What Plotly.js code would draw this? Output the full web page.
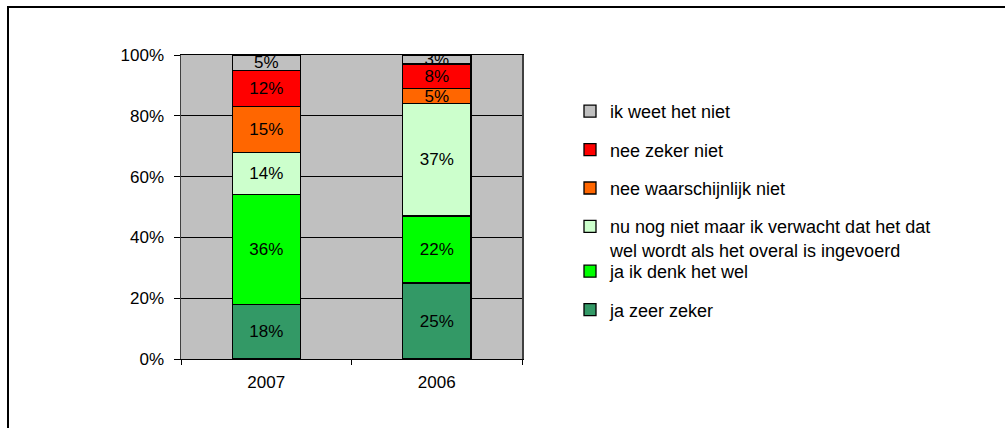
<!DOCTYPE html>
<html>
<head>
<meta charset="utf-8">
<script src="https://cdn.plot.ly/plotly-3.0.1.min.js"></script>
<style>
  html, body { margin: 0; padding: 0; background: #fff; overflow: hidden; }
  #wrap { position: relative; width: 1005px; height: 428px; }
  #chart { position: absolute; left: 0; top: 0; width: 1005px; height: 428px; }
  #frame { position: absolute; left: 7px; top: 6px; width: 1200px; height: 600px;
           border-left: 2px solid #000; border-top: 2px solid #000; pointer-events: none; }
</style>
</head>
<body>
<div id="wrap">
  <div id="chart"></div>
  <div id="frame"></div>
</div>
<script>
// ---- data ----
const categories = ['2007', '2006'];
const seriesNames = [
  'ja zeer zeker',
  'ja ik denk het wel',
  'nu nog niet maar ik verwacht dat het dat<br>wel wordt als het overal is ingevoerd',
  'nee waarschijnlijk niet',
  'nee zeker niet',
  'ik weet het niet'
];
const jaZeerZeker       = [18, 25];
const jaIkDenkHetWel    = [36, 22];
const nuNogNiet         = [14, 37];
const neeWaarschijnlijk = [15, 5];
const neeZekerNiet      = [12, 8];
const ikWeetHetNiet     = [5, 3];
const seriesValues = [jaZeerZeker, jaIkDenkHetWel, nuNogNiet, neeWaarschijnlijk, neeZekerNiet, ikWeetHetNiet];
const seriesColors = ['#339966', '#00FF00', '#CCFFCC', '#FF6600', '#FF0000', '#C0C0C0'];

// ---- layout helpers (pixel -> paper) ----
const W = 1005, H = 428;
const M = { l: 181, r: 1005 - 522, t: 55, b: 428 - 359 };
const plotW = W - M.l - M.r, plotH = H - M.t - M.b;
const px = x => (x - M.l) / plotW;
const py = y => (H - M.b - y) / plotH;

const FONT = 'Liberation Sans, Arial, sans-serif';
const N = seriesNames.length;

const traces = seriesNames.map((name, i) => ({
  type: 'bar',
  name: name,
  x: categories,
  y: seriesValues[i],
  text: seriesValues[i].map(v => v + '%'),
  textposition: 'inside',
  insidetextanchor: 'middle',
  textangle: 0,
  constraintext: 'none',
  textfont: { family: FONT, size: 17, color: '#000' },
  marker: { color: seriesColors[i], line: { color: '#000', width: 1.3 } },
  legend: i < 2 ? 'legend2' : 'legend',
  legendgroup: 'g' + i,
  legendrank: N - i,
  hoverinfo: 'skip'
}));

const legendCommon = {
  font: { family: FONT, size: 18, color: '#000' },
  bgcolor: 'rgba(0,0,0,0)',
  borderwidth: 0,
  traceorder: 'grouped',
  tracegroupgap: 12,
  valign: 'top',
  xanchor: 'left',
  yanchor: 'top',
  itemclick: false,
  itemdoubleclick: false
};

const layout = {
  width: W, height: H,
  margin: M,
  paper_bgcolor: '#fff',
  plot_bgcolor: '#C0C0C0',
  barmode: 'stack',
  bargap: 0.6,
  showlegend: true,
  font: { family: FONT, size: 17, color: '#000' },
  xaxis: {
    type: 'category',
    tickson: 'boundaries',
    ticks: 'outside', ticklen: 5, tickcolor: '#000', tickwidth: 1,
    ticklabelstandoff: 8,
    showline: true, linecolor: '#000', linewidth: 1, mirror: true,
    showgrid: false,
    tickfont: { family: FONT, size: 17, color: '#000' },
    fixedrange: true
  },
  yaxis: {
    range: [0, 100],
    dtick: 20,
    ticksuffix: '%',
    ticks: 'outside', ticklen: 6, tickcolor: '#000', tickwidth: 1,
    ticklabelstandoff: 6,
    showline: true, linecolor: '#404040', linewidth: 1.5, mirror: true,
    showgrid: true, gridcolor: '#000', gridwidth: 1,
    zeroline: false,
    tickfont: { family: FONT, size: 17, color: '#000' },
    fixedrange: true
  },
  legend: Object.assign({}, legendCommon, { x: px(570), y: py(93) }),
  legend2: Object.assign({}, legendCommon, { x: px(570), y: py(253) })
};

Plotly.newPlot('chart', traces, layout, { displayModeBar: false, staticPlot: true });
</script>
</body>
</html>
